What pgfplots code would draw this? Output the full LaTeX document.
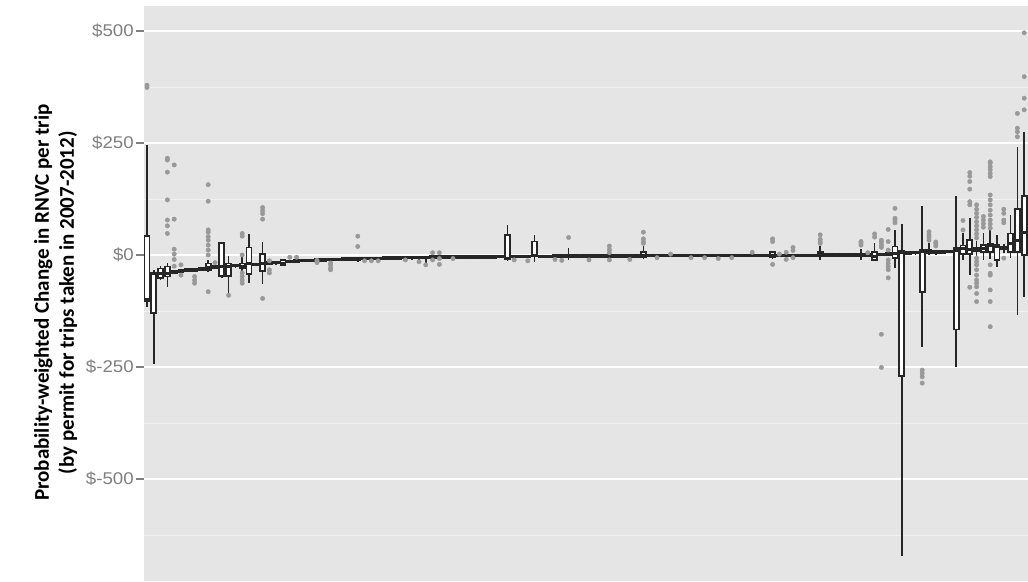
\documentclass[border=0pt]{standalone}
\usepackage{pgfplots}
\usepackage{pgfplotstable}
\pgfplotsset{compat=1.18}
\usepgfplotslibrary{statistics}
\usepackage{fontspec}
\newfontfamily\tickfamily[FakeStretch=1.1]{Liberation Sans}
\newfontfamily\labelfamily{Carlito}
\definecolor{panel}{HTML}{E5E5E5}
\definecolor{gridminor}{HTML}{F2F2F2}
\definecolor{labelgray}{HTML}{7F7F7F}
\definecolor{outgray}{HTML}{999999}
\definecolor{boxline}{HTML}{262626}

\pgfplotstableread{
x lw q1 med q3 uw
0 -115 -104 -100 42 245
1 -243 -130 -42 -40 -33
2 -55 -52 -42 -30 -25
3 -71 -48 -42 -26 -18
4 -41 -40 -38 -36 -35
5 -39 -38 -36 -34 -33
6 -37 -36 -34 -32 -31
7 -36 -35 -33 -31 -30
8 -34 -33 -31 -29 -28
9 -38 -33 -28 -19 -12
10 -30 -29 -27 -25 -24
11 -52 -47 -26 27 28
12 -88 -47 -25 -19 -2
13 -27 -26 -24 -22 -21
14 -35 -30 -25 -19 -5
15 -63 -42 -20 17 46
16 -24 -23 -21 -19 -18
17 -65 -35 -20 2 28
18 -21 -20 -18 -16 -15
19 -20 -19 -17 -15 -14
20 -24 -22 -20 -11 -9
21 -17 -16 -14 -12 -11
22 -16 -15 -13 -11 -10
23 -15 -14 -12 -10 -9
24 -15 -14 -12 -10 -9
25 -14 -13 -11 -9 -8
26 -14 -13 -11 -9 -8
27 -13 -12 -10 -8 -7
28 -13 -12 -10 -8 -7
29 -12 -11 -9 -7 -6
30 -12 -11 -9 -7 -6
31 -16 -11 -9 -7 -6
32 -11 -10 -8 -6 -5
33 -11 -10 -8 -6 -5
34 -11 -10 -8 -6 -5
35 -10 -9 -7 -5 -4
36 -10 -9 -7 -5 -4
37 -10 -9 -7 -5 -4
38 -9 -8 -6 -4 -3
39 -9 -8 -6 -4 -3
40 -9 -8 -6 -4 -3
41 -18 -8 -6 -4 -3
42 -8 -7 -5 -3 -2
43 -8 -7 -5 -3 -2
44 -8 -7 -5 -3 -2
45 -8 -7 -5 -3 -2
46 -7 -6 -4 -2 -1
47 -7 -6 -4 -2 -1
48 -7 -6 -4 -2 -1
49 -7 -6 -4 -2 -1
50 -7 -6 -4 -2 -1
51 -7 -6 -4 -2 -1
52 -6 -5 -3 -1 0
53 -13 -10 -8 45 67
54 -6 -5 -3 -1 0
55 -6 -5 -3 -1 0
56 -6 -5 -3 -1 0
57 -16 -3 -2 30 45
58 -6 -5 -3 -1 0
59 -6 -5 -3 -1 0
60 -5 -4 -2 0 1
61 -5 -4 -2 0 1
62 -11 -5 -2 1 15
63 -5 -4 -2 0 1
64 -5 -4 -2 0 1
65 -5 -4 -2 0 1
66 -5 -4 -2 0 1
67 -5 -4 -2 0 1
68 -5 -4 -2 0 1
69 -5 -4 -2 0 1
70 -5 -4 -2 0 1
71 -5 -4 -2 0 1
72 -5 -4 -2 0 1
73 -8 -4 -1 7 20
74 -4 -3 -1 1 2
75 -4 -3 -1 1 2
76 -4 -3 -1 1 2
77 -4 -3 -1 1 2
78 -4 -3 -1 1 2
79 -4 -3 -1 1 2
80 -4 -3 -1 1 2
81 -4 -3 -1 1 2
82 -4 -3 -1 1 2
83 -4 -3 -1 1 2
84 -4 -3 -1 1 2
85 -4 -3 -1 1 2
86 -4 -3 -1 1 2
87 -4 -3 -1 1 2
88 -4 -3 -1 1 2
89 -4 -3 -1 1 2
90 -4 -3 -1 1 2
91 -4 -3 -1 1 2
92 -10 -5 -1 7 10
93 -4 -3 -1 1 2
94 -4 -3 -1 1 2
95 -4 -3 -1 1 2
96 -4 -3 -1 1 2
97 -4 -3 -1 1 2
98 -4 -3 -1 1 2
99 -12 -2 0 6 20
100 -3 -2 0 2 3
101 -3 -2 0 2 3
102 -3 -2 0 2 3
103 -3 -2 0 2 3
104 -3 -2 0 2 3
105 -12 -3 0 3 13
106 -3 -2 0 2 3
107 -14 -11 -3 6 26
108 -2 -1 1 3 4
109 -1 0 2 4 5
110 -28 -7 4 19 55
111 -673 -270 5 10 69
112 1 2 4 6 7
113 2 3 5 7 8
114 -206 -83 8 11 109
115 0 4 7 11 27
116 0 3 6 10 12
117 4 5 7 9 10
118 5 6 8 10 11
119 -251 -166 10 15 132
120 -11 2 15 21 49
121 -45 2 12 33 82
122 -2 9 12 16 32
123 -11 7 15 22 50
124 -8 7 22 25 55
125 -26 -11 19 22 45
126 5 12 15 18 25
127 -7 7 26 48 89
128 -134 7 33 102 242
129 -93 0 50 132 275
}\boxdata

\pgfplotstableread{
x y
0 379
0 374
3 216
3 212
3 185
3 123
3 78
3 65
3 48
4 201
4 80
4 13
4 2
4 -10
4 -25
5 -22
5 -45
7 -48
7 -56
7 -63
9 157
9 120
9 56
9 51
9 41
9 33
9 22
9 11
9 0
9 -82
10 -17
12 -90
14 48
14 42
14 0
14 -40
14 -48
14 -56
14 -63
17 106
17 99
17 92
17 80
17 -97
18 -13
18 -33
18 -40
21 -5
22 -5
25 -12
25 -15
25 -17
27 -18
27 -22
27 -29
27 -33
31 42
31 19
32 -13
33 -13
34 -13
38 -11
40 -15
41 -22
42 5
42 -11
43 5
43 -8
43 -21
45 -8
54 -11
56 -13
60 -10
61 -12
62 39
65 -11
68 20
68 12
68 5
68 -11
71 -10
73 51
73 36
73 30
73 26
75 -6
77 2
80 -6
82 -6
84 -8
86 -6
89 6
92 36
92 30
92 -21
93 2
94 6
94 -10
95 17
95 10
95 -6
99 45
99 35
99 30
99 26
105 30
105 27
105 22
106 5
107 47
107 40
108 33
108 28
108 22
108 17
108 -177
108 -251
109 57
109 30
109 11
109 -11
109 -19
109 -26
109 -33
109 -51
110 104
110 82
110 78
110 72
114 -257
114 -264
114 -272
114 -286
115 52
115 45
115 40
115 33
116 20
116 25
116 29
120 77
120 56
121 184
121 176
121 164
121 147
121 119
121 112
121 -72
122 112
122 102
122 93
122 84
122 74
122 65
122 56
122 47
122 38
122 -7
122 -15
122 -22
122 -33
122 -45
122 -56
122 -63
122 -71
122 -86
122 -104
123 86
123 78
123 70
123 62
124 208
124 205
124 197
124 190
124 182
124 175
124 134
124 123
124 112
124 100
124 89
124 78
124 69
124 60
124 -22
124 -41
124 -45
124 -78
124 -104
124 -160
126 102
126 93
126 78
126 72
126 -7
128 316
128 283
128 275
128 264
129 496
129 398
129 350
129 324
}\outdata

\begin{document}
\begin{tikzpicture}
\useasboundingbox (0,0) rectangle (1028pt,581pt);
\begin{axis}[
  at={(144pt,0pt)}, anchor=south west,
  scale only axis, width=884pt, height=575pt,
  xmin=-0.44, xmax=129.56, ymin=-727.7, ymax=555.8,
  axis background/.style={fill=panel},
  axis line style={draw=none},
  xtick=\empty,
  ytick={-500,-250,0,250,500},
  yticklabels={\$-500,\$-250,\$0,\$250,\$500},
  minor ytick={-625,-375,-125,125,375},
  ymajorgrids, yminorgrids,
  major grid style={white, line width=1.7pt},
  minor grid style={gridminor, line width=0.9pt},
  tick align=outside, ytick pos=left,
  major tick length=8pt, minor tick length=0pt,
  tick style={color=labelgray, line width=1.2pt},
  yticklabel style={font=\tickfamily\fontsize{17}{20}\selectfont, color=labelgray, inner sep=2pt},
  ylabel={Probability-weighted Change in RNVC per trip\\(by permit for trips taken in 2007-2012)},
  ylabel style={font=\labelfamily\bfseries\fontsize{21}{25}\selectfont, align=center, at={(axis description cs:-0.1,0.484)}, anchor=center},
  boxplot/draw direction=y,
  boxplot/box extend=0.74,
  boxplot/whisker extend=0,
  boxplot/every box/.style={draw=boxline, fill=white, line width=1.7pt},
  boxplot/every whisker/.style={draw=boxline, line width=1.7pt},
  boxplot/every median/.style={draw=boxline, line width=3pt},
]
\addplot[only marks, mark=*, mark size=2.2pt, color=outgray] table[x=x, y=y] {\outdata};
\pgfplotsinvokeforeach{0,...,129}{
  \pgfplotstablegetelem{#1}{lw}\of\boxdata \edef\bLW{\pgfplotsretval}
  \pgfplotstablegetelem{#1}{q1}\of\boxdata \edef\bQA{\pgfplotsretval}
  \pgfplotstablegetelem{#1}{med}\of\boxdata \edef\bMD{\pgfplotsretval}
  \pgfplotstablegetelem{#1}{q3}\of\boxdata \edef\bQB{\pgfplotsretval}
  \pgfplotstablegetelem{#1}{uw}\of\boxdata \edef\bUW{\pgfplotsretval}
  \edef\doplot{\noexpand\addplot[boxplot prepared={draw position=#1, lower whisker=\bLW, lower quartile=\bQA, median=\bMD, upper quartile=\bQB, upper whisker=\bUW}, draw=boxline, fill=white, line width=1.7pt, solid, mark=none] coordinates {};}
  \doplot
}
\end{axis}
\end{tikzpicture}
\end{document}
